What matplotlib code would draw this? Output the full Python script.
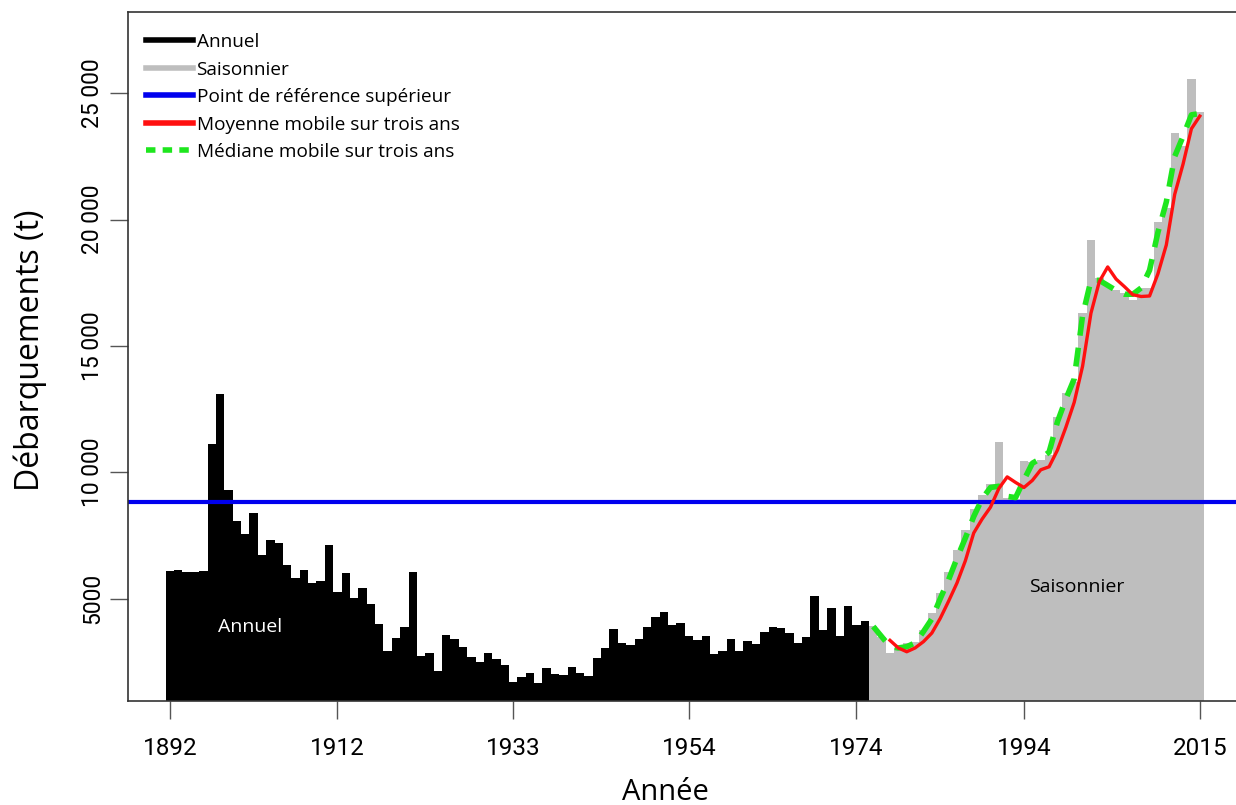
import matplotlib
matplotlib.use('Agg')
import matplotlib.pyplot as plt
from matplotlib.lines import Line2D

# Débarquements annuels (1892-1975) et saisonniers (1976-2015), en tonnes
annees_annuel = list(range(1892, 1976))
debarq_annuel = [
    6100, 6130, 6070, 6050, 6100, 11125, 13100, 9300, 8080, 7550,
    8380, 6730, 7320, 7220, 6330, 5810, 6140, 5610, 5680, 7130,
    5280, 6000, 5040, 5410, 4780, 4000, 2930, 3430, 3890, 6040,
    2730, 2840, 2140, 3560, 3390, 3100, 2700, 2510, 2840, 2600,
    2380, 1720, 1910, 2070, 1680, 2240, 2010, 1980, 2310, 2070,
    1940, 2640, 3040, 3790, 3230, 3170, 3390, 3870, 4260, 4490,
    3960, 4030, 3530, 3370, 3520, 2800, 2940, 3390, 2940, 3340,
    3210, 3690, 3890, 3830, 3650, 3230, 3500, 5110, 3760, 4650,
    3520, 4720, 3960, 4130,
]
annees_saison = list(range(1976, 2016))
debarq_saison = [
    3900, 3500, 2840, 3040, 3230, 3300, 3760, 4420, 5210, 6070,
    6930, 7720, 8540, 9110, 9540, 11220, 9000, 8950, 10460, 10420,
    10490, 10690, 12200, 13160, 13590, 16300, 19200, 17700, 17400, 17200,
    17100, 16830, 17300, 17300, 19900, 20470, 23430, 22920, 25580, 24280,
]
# moyenne mobile sur trois ans
annees_moyenne = list(range(1978, 2016))
moyenne_mobile = [
    3350, 3050, 2900, 3050, 3300, 3640, 4220, 4900, 5620, 6500,
    7600, 8150, 8620, 9360, 9820, 9600, 9400, 9680, 10100, 10220,
    10880, 11780, 12770, 14200, 16300, 17550, 18130, 17650, 17350, 17030,
    16960, 16980, 17860, 19000, 21000, 22200, 23600, 24100,
]
# médiane mobile sur trois ans
annees_mediane = list(range(1976, 2016))
mediane_mobile = [
    3900, 3500, 3100, 3050, 3100, 3250, 3700, 4200, 5000, 5750,
    6600, 7400, 8250, 8950, 9400, 9450, 9050, 9000, 9700, 10360,
    10550, 10800, 12000, 12900, 13700, 16200, 17600, 17600, 17400, 17200,
    17050, 17050, 17300, 18000, 19500, 20700, 22500, 23300, 24150, 24200,
]
point_ref_sup = 8830

ticks_annees = [1892, 1912, 1933, 1954, 1974, 1994, 2015]
ticks_y = [5000, 10000, 15000, 20000, 25000]
labels_y = ['5000', '10 000', '15 000', '20 000', '25 000']

police_axes = ['Roboto', 'DejaVu Sans']
police_texte = ['Open Sans', 'DejaVu Sans']

fig = plt.figure(figsize=(12.36, 8.05), dpi=100)
ax = fig.add_axes([128 / 1236, 1 - 701 / 805, (1240 - 128) / 1236, (701 - 12) / 805])

gris = '#BEBEBE'
vert = '#1EE61E'

ax.bar(annees_annuel, debarq_annuel, width=1.0, color='black', linewidth=0)
ax.bar(annees_saison, debarq_saison, width=1.0, color=gris, linewidth=0)
ax.axhline(point_ref_sup, color='#0000EE', linewidth=3.0)
ax.plot(annees_mediane, mediane_mobile, color=vert, linewidth=4,
        linestyle=(0, (3.4, 2.2)))
ax.plot(annees_moyenne, moyenne_mobile, color='#FF1010', linewidth=2.4)

ax.set_xlim(1887.0, 2019.8)
ax.set_ylim(950, 28220)

ax.set_xticks(ticks_annees)
ax.set_xticklabels([str(a) for a in ticks_annees], family=police_axes, fontsize=17.5)
ax.set_yticks(ticks_y)
ax.set_yticklabels(labels_y, family=police_axes, fontsize=16.5, rotation=90,
                   va='center')
ax.tick_params(axis='x', length=13, width=1, color='#555555', pad=13)
ax.tick_params(axis='y', length=13, width=1, color='#555555', pad=4)
for s in ax.spines.values():
    s.set_linewidth(1.2)
    s.set_color('#333333')

ax.set_xlabel('Année', family=police_texte, fontsize=21)
ax.xaxis.set_label_coords((665 - 128) / 1112, (701 - 792) / 689)
ax.set_ylabel('Débarquements (t)', family=police_texte, fontsize=23)
ax.yaxis.set_label_coords((30 - 128) / 1112, (701 - 350) / 689)
ax.xaxis.label.set_va('center')
ax.yaxis.label.set_va('center')

ax.text(1901.6, 3870, 'Annuel', color='white', ha='center', va='center',
        family=police_texte, fontsize=14)
ax.text(2000.3, 5450, 'Saisonnier', color='black', ha='center', va='center',
        family=police_texte, fontsize=14)

poignees = [
    Line2D([], [], color='black', linewidth=4),
    Line2D([], [], color=gris, linewidth=4),
    Line2D([], [], color='#0000EE', linewidth=4),
    Line2D([], [], color='#FF1010', linewidth=4),
    Line2D([], [], color=vert, linewidth=4, linestyle=(0, (1.7, 1.3))),
]
etiquettes = ['Annuel', 'Saisonnier', 'Point de référence supérieur',
              'Moyenne mobile sur trois ans', 'Médiane mobile sur trois ans']
ax.legend(poignees, etiquettes, loc='upper left', bbox_to_anchor=(0.006, 0.986),
          frameon=False, handlelength=2.45, handletextpad=0.2, labelspacing=0.5,
          borderaxespad=0.2, prop={'family': police_texte, 'size': 13.7})

fig.savefig('out.png', dpi=100)
